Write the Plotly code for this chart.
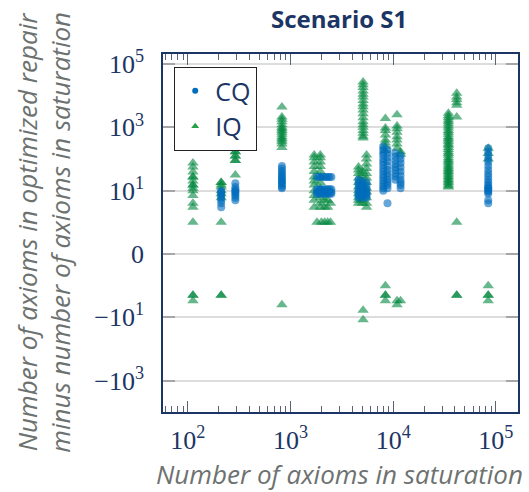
import numpy as np
import plotly.graph_objects as go

# Scenario S1: for each ontology (number of axioms in saturation) the
# difference "axioms in optimized repair - axioms in saturation".
# Each row: (axioms in saturation, [differences observed for that ontology])
cq_columns = [
    (211, [10, 9, 8, 7, 6, 5, 4, 3]),
    (290, [17, 13, 11, 10, 9, 8, 7, 6, 5]),
    (824, [60, 50, 42, 36, 31, 27, 24, 21, 19, 17, 15, 13, 12]),
    (1810, [27, 11, 9, 8]),
    (1900, [27, 11, 9, 8]),
    (2000, [27, 11, 9, 8]),
    (2100, [27, 11, 9, 8]),
    (2200, [27, 11, 9, 8]),
    (2300, [27, 11, 9, 8]),
    (2400, [27, 11, 9, 8]),
    (2500, [27, 11, 9, 8]),
    (4600, [22, 18, 15, 12, 10, 8, 7, 6]),
    (5000, [20, 16, 13, 11, 9, 8, 7, 6]),
    (5500, [18, 14, 11, 9, 8, 7, 6]),
    (8000, [250, 200, 160, 130, 100, 80, 65, 50, 40, 32, 26, 21, 17, 14, 12, 10]),
    (8800, [200, 150, 110, 85, 60, 45, 35, 28, 22, 18, 15, 12, 4]),
    (10500, [155, 120, 90, 70, 55, 45, 35, 28, 22]),
    (11800, [130, 100, 75, 55, 40, 30, 22, 18, 15, 12]),
    (84300, [220, 170, 130, 100, 80, 60, 45, 35, 28, 22, 18, 15, 13, 12, 11,
             10, 9, 8, 5, 4]),
]

iq_columns = [
    (112, [75, 56, 39, 27, 27, 20, 15, 15, 12, 10, 7, 4, 3, 1, -2, -2, -3]),
    (211, [18, 18, 15, 13, 10, 8, 6, 1, -2, -2]),
    (290, [170, 170, 125, 125, 90, 90, 31]),
    (824, [4400, 2100, 1800, 1500, 1200, 1000, 900, 800, 700, 600, 500, 450,
           400, 350, 300, 230, -4]),
    (1700, [134, 110, 80, 58, 40, 27, 20, 15, 10, 7, 5, 3]),
    (1950, [134, 110, 80, 58, 40, 27, 18, 12, 9, 6, 4, 3]),
    (1810, [1]),
    (2000, [1]),
    (2150, [5, 3, 1]),
    (2300, [5, 3, 1]),
    (2450, [4, 1]),
    (4600, [56, 45, 35, 25, 18, 13, 10, 8, 6, 5, 4]),
    (5000, [40, 30, 20, 14, 10, 7, 5, 4]),
    (5090, [27000, 22000, 18000, 14000, 11000, 9000, 7000, 5500, 4500, 3500,
            2700, 2000, 1500, 1200, 1000, 800, 650, 520, 460, -6, -12]),
    (5500, [134, 100, 70, 50, 35, 25, 18, 12, 9, 6, 4, 3]),
    (8400, [1900, 950, 800, 570, 400, 320, 250, 180, -1, -2, -2, -3]),
    (10900, [2500, 1100, 900, 700, 500, 400, 300, 220, -3, -4]),
    (11800, [170, 140, -3]),
    (34500, [2800, 2300, 2000, 1700, 1500, 1300, 1100, 950, 800, 700, 600, 500,
             450, 400, 350, 300, 270, 230, 200, 170, 150, 130, 110, 95, 85, 75,
             65, 57, 50, 45, 40, 36, 32, 28, 25, 22, 20, 18, 16, 14, 13]),
    (41600, [12000, 9000, 7500, 6000, 5000, 2100, 1, -2, -2]),
    (84300, [220, 150, 100, -1, -2, -2, -3]),
]

y_tick_values = [1e5, 1e3, 1e1, 0, -1e1, -1e3]
y_tick_labels = ["10<sup>5</sup>", "10<sup>3</sup>", "10<sup>1</sup>", "0",
                 "\u221210<sup>1</sup>", "\u221210<sup>3</sup>"]
x_tick_values = [1e2, 1e3, 1e4, 1e5]
x_tick_labels = ["10<sup>2</sup>", "10<sup>3</sup>", "10<sup>4</sup>", "10<sup>5</sup>"]

NAVY = "#1b3564"
GREY_TEXT = "#6d7271"
CQ_COLOR = "rgb(0,108,188)"
IQ_COLOR = "rgb(0,135,62)"


def symlog(v):
    """Symmetric log scale: 0 -> 0, 10 -> 1, 10^3 -> 2, 10^5 -> 3 (and mirrored)."""
    return np.arcsinh(np.asarray(v, dtype=float) / 0.2) / np.log(100)


def flatten(columns):
    xs, ys = [], []
    for sat, diffs in columns:
        xs.extend([sat] * len(diffs))
        ys.extend(diffs)
    return np.array(xs, dtype=float), np.array(ys, dtype=float)


cq_x, cq_y = flatten(cq_columns)
iq_x, iq_y = flatten(iq_columns)

fig = go.Figure()

fig.add_trace(go.Scatter(
    x=iq_x, y=symlog(iq_y), mode="markers", name="IQ", showlegend=False,
    marker=dict(symbol="triangle-up", size=10, color=IQ_COLOR, opacity=0.6,
                line=dict(width=0)),
))
fig.add_trace(go.Scatter(
    x=cq_x, y=symlog(cq_y), mode="markers", name="CQ", showlegend=False,
    marker=dict(symbol="circle", size=8, color=CQ_COLOR, opacity=0.6,
                line=dict(width=0)),
))

# legend entries with solid symbols
fig.add_trace(go.Scatter(
    x=[None], y=[None], mode="markers", name="CQ", legendrank=1,
    marker=dict(symbol="circle", size=6, color=CQ_COLOR),
))
fig.add_trace(go.Scatter(
    x=[None], y=[None], mode="markers", name="IQ", legendrank=2,
    marker=dict(symbol="triangle-up", size=7, color="rgb(40,160,70)"),
))

minor_x = [m * 10 ** e for e in range(1, 6) for m in range(2, 10)]

fig.update_xaxes(
    type="log", range=[1.7575, 5.216],
    tickmode="array", tickvals=x_tick_values, ticktext=x_tick_labels,
    ticks="inside", ticklen=11, tickwidth=1, tickcolor="#5a6475",
    minor=dict(tickmode="array", tickvals=minor_x, ticks="inside", ticklen=6,
               tickwidth=1, tickcolor="#5a6475", showgrid=False),
    showgrid=False, zeroline=False,
    showline=True, linecolor=NAVY, linewidth=1.5, mirror="ticks",
    tickfont=dict(family="Liberation Serif", size=26, color=NAVY),
    ticklabelstandoff=4,
)
fig.update_yaxes(
    range=[-2.496, 3.158],
    tickmode="array", tickvals=symlog(y_tick_values), ticktext=y_tick_labels,
    ticks="inside", ticklen=12, tickwidth=2, tickcolor="#a6a6a6",
    showgrid=True, gridcolor="#dcdcdc", gridwidth=1.5, zeroline=False,
    showline=True, linecolor=NAVY, linewidth=1.5, mirror="ticks",
    tickfont=dict(family="Liberation Serif", size=26, color=NAVY),
    ticklabelstandoff=12,
)

fig.update_layout(
    width=529, height=492,
    margin=dict(l=163, r=9, t=54, b=80),
    paper_bgcolor="white", plot_bgcolor="white",
    showlegend=True,
    legend=dict(
        x=0.031, y=0.964, xanchor="left", yanchor="top",
        bgcolor="white", bordercolor="#222222", borderwidth=1.2,
        font=dict(family="Open Sans", size=25, color=NAVY),
        itemwidth=30, tracegroupgap=0,
    ),
    annotations=[
        dict(text="<b>Scenario S1</b>", xref="paper", yref="paper",
             x=(340 - 163) / 357, y=(412 - 18) / 358,
             xanchor="center", yanchor="middle", showarrow=False,
             font=dict(family="Open Sans", size=24, color=NAVY)),
        dict(text="<i>Number of axioms in saturation</i>", xref="paper", yref="paper",
             x=(340 - 163) / 357, y=(412 - 474) / 358,
             xanchor="center", yanchor="middle", showarrow=False,
             font=dict(family="Open Sans", size=26, color=GREY_TEXT)),
        dict(text="<i>Number of axioms in optimized repair<br>minus number of axioms in saturation</i>",
             xref="paper", yref="paper",
             x=(43 - 163) / 357, y=(412 - 232) / 358, textangle=-90,
             xanchor="center", yanchor="middle", showarrow=False,
             font=dict(family="Open Sans", size=26, color=GREY_TEXT)),
    ],
)

fig.write_html("out.html")
